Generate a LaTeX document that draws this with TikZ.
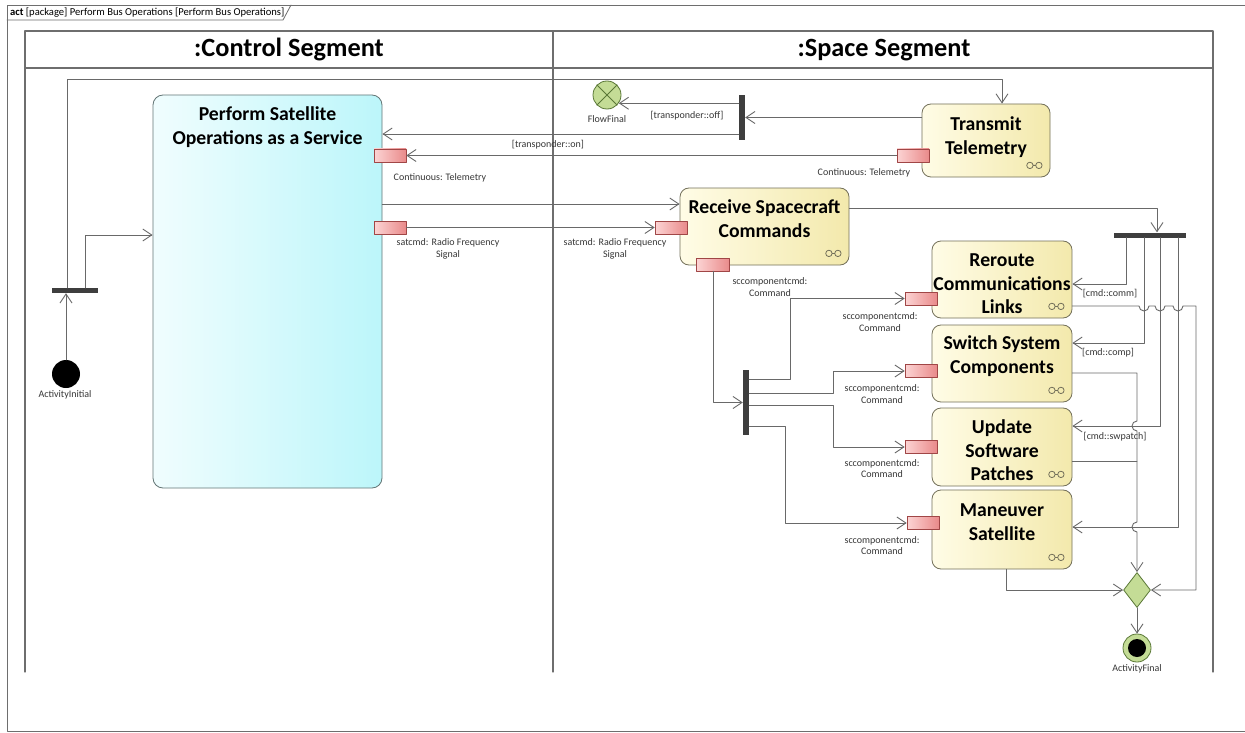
\documentclass[tikz,border=0pt]{standalone}
\usepackage{fontspec}
\setmainfont{Carlito}
\usetikzlibrary{arrows.meta}
\usetikzlibrary{shapes.geometric}

\definecolor{linegray}{RGB}{105,105,105}
\definecolor{lanegray}{RGB}{110,110,110}
\definecolor{lblgray}{RGB}{55,55,55}
\definecolor{actL}{RGB}{255,252,230}
\definecolor{actR}{RGB}{243,233,172}
\definecolor{actD}{RGB}{115,112,90}
\definecolor{perfL}{RGB}{240,253,254}
\definecolor{perfR}{RGB}{188,246,250}
\definecolor{perfD}{RGB}{100,118,118}
\definecolor{pinL}{RGB}{252,212,212}
\definecolor{pinR}{RGB}{233,138,138}
\definecolor{pinD}{RGB}{160,70,70}
\definecolor{greenF}{RGB}{196,220,150}
\definecolor{greenD}{RGB}{90,120,55}
\definecolor{barC}{RGB}{62,62,62}

\begin{document}
\begin{tikzpicture}[line cap=round,line join=round,x=1pt,y=-1pt,
  flow/.style={draw=linegray,line width=0.9pt,-{Straight Barb[length=9pt,width=12pt]}},
  wire/.style={draw=linegray,line width=0.9pt},
  act/.style={draw=actD,line width=0.8pt,rounded corners=9pt,left color=actL,right color=actR,
    minimum width=140pt,minimum height=77pt,inner sep=0pt},
  acttxt/.style={anchor=north,align=center,inner sep=0pt,font=\fontsize{19.7}{23.5}\selectfont\bfseries},
  pinbox/.style={draw=pinD,line width=0.7pt,left color=pinL,right color=pinR,
    minimum width=32pt,minimum height=13pt,inner sep=0pt},
  lbl/.style={align=center,inner sep=0pt,text=lblgray,font=\fontsize{10}{11.5}\selectfont},
  bar/.style={fill=barC,inner sep=0pt},
  rake/.pic={\draw[actD,line width=0.8pt] (-4.5,0) circle[radius=3.2pt] (4.5,0) circle[radius=3.2pt] (-1.3,0) -- (1.3,0);}]
\useasboundingbox (0,0) rectangle (1245,733);
\fill[white] (0,0) rectangle (1245,733);

% diagram frame
\draw[lanegray,line width=0.8pt] (1245,5) -- (7,5) -- (7,731) -- (1245,731);
\draw[lanegray,line width=0.8pt] (7,20) -- (283,20) -- (291,5);
\node[anchor=west,inner sep=0pt,font=\fontsize{10.6}{12}\selectfont] (frame-t) at (10,13)
  {\textbf{act} [package] Perform Bus Operations [Perform Bus Operations]};

% partitions
\draw[lanegray,line width=1.2pt] (25,672) -- (25,31) -- (1213,31) -- (1213,672);
\draw[lanegray,line width=1.2pt] (25,68) -- (1213,68);
\draw[lanegray,line width=1.2pt] (553,31) -- (553,672);
\node[font=\fontsize{26.3}{30}\selectfont\bfseries] (ctrl) at (289,50) {:Control Segment};
\node[font=\fontsize{26.3}{30}\selectfont\bfseries] (space) at (884,50) {:Space Segment};

% control segment
\node[circle,fill=black,minimum size=28pt,inner sep=0pt] (init) at (66,374) {};
\node[lbl] (init-l) at (65,395) {ActivityInitial};
\node[bar,minimum width=46pt,minimum height=5pt] (forkA) at (75,290.5) {};
\node[draw=perfD,line width=0.8pt,rounded corners=10pt,left color=perfL,right color=perfR,
  minimum width=229pt,minimum height=393pt,inner sep=0pt] (perform) at (267.5,291.5) {};
\node[acttxt] (perform-t) at ([yshift=-12pt]perform.north) {Perform Satellite\\Operations as a Service};
\node[pinbox] (perfTm) at (390,155.5) {};
\node[pinbox] (perfRf) at (390,227.5) {};
\node[lbl] (perfTm-l) at (440,178) {Continuous: Telemetry};
\node[lbl] (perfRf-l) at (448,249) {satcmd: Radio Frequency\\Signal};

% space segment
\node[act,minimum width=128pt,minimum height=73pt] (transmit) at (986,140.5) {};
\node[acttxt] (transmit-t) at ([yshift=-13pt]transmit.north) {Transmit\\Telemetry};
\node[pinbox] (transPin) at (913,155.5) {};
\node[lbl] (transPin-l) at (864,173) {Continuous: Telemetry};
\node[bar,minimum width=6pt,minimum height=45pt] (joinT) at (742,117.5) {};
\node[circle,draw=greenD,fill=greenF,line width=0.8pt,minimum size=28pt,inner sep=0pt] (flowfinal) at (607,95) {};
\draw[greenD,line width=0.8pt] (flowfinal.45) -- (flowfinal.225) (flowfinal.135) -- (flowfinal.-45);
\node[lbl] (flowfinal-l) at (607,119) {FlowFinal};

\node[act,minimum width=169pt] (receive) at (764.5,226.5) {};
\node[acttxt] (receive-t) at ([yshift=-12pt]receive.north) {Receive Spacecraft\\Commands};
\node[pinbox] (recvRf) at (671,227.5) {};
\node[lbl] (recvRf-l) at (615,249) {satcmd: Radio Frequency\\Signal};
\node[pinbox,minimum width=33pt] (recvCmd) at (713,264.5) {};
\node[lbl] (recvCmd-l) at (770,287) {sccomponentcmd:\\Command};

\node[bar,minimum width=6pt,minimum height=65pt] (forkB) at (746,402.5) {};
\node[bar,minimum width=72pt,minimum height=5pt] (forkC) at (1150,235) {};

\node[act] (reroute) at (1002,279.5) {};
\node[acttxt] (reroute-t) at ([yshift=-13pt]reroute.north) {Reroute\\Communications\\Links};
\node[act] (switch) at (1002,363.5) {};
\node[acttxt] (switch-t) at ([yshift=-11pt]switch.north) {Switch System\\Components};
\node[act,minimum height=78pt] (update) at (1002,447) {};
\node[acttxt] (update-t) at ([yshift=-12pt]update.north) {Update\\Software\\Patches};
\node[act,minimum height=79pt] (maneuver) at (1002,529.5) {};
\node[acttxt] (maneuver-t) at ([yshift=-14pt]maneuver.north) {Maneuver\\Satellite};

\node[pinbox] (reroutePin) at (921,298.5) {};
\node[pinbox] (switchPin) at (921,371) {};
\node[pinbox] (updatePin) at (921,447) {};
\node[pinbox] (maneuverPin) at (923,523) {};
\node[lbl] (reroutePin-l) at (880,322) {sccomponentcmd:\\Command};
\node[lbl] (switchPin-l) at (882,394) {sccomponentcmd:\\Command};
\node[lbl] (updatePin-l) at (882,468.5) {sccomponentcmd:\\Command};
\node[lbl] (maneuverPin-l) at (882,545.5) {sccomponentcmd:\\Command};

% call behaviour rakes
\foreach \a in {transmit,receive,reroute,switch,update,maneuver}
  \pic at ([xshift=-16pt,yshift=12pt]\a.south east) {rake};

\node[diamond,draw=greenD,fill=greenF,line width=0.8pt,minimum width=27pt,minimum height=35pt,inner sep=0pt] (merge) at (1137,590) {};
\node[circle,draw=greenD,fill=greenF,line width=0.8pt,minimum size=28pt,inner sep=0pt] (final) at (1137,648) {};
\fill (final) circle[radius=9pt];
\node[lbl] (final-l) at (1137,669) {ActivityFinal};

% flows
\coordinate (topRail) at (1002,79);
\coordinate (perfIn) at (85,235);
\draw[flow] (init.north) -- (init.north |- forkA.south);
\draw[flow] (forkA.north -| 67,0) |- (topRail) -- (topRail |- transmit.north);
\draw[flow] (forkA.north -| perfIn) |- (perform.west |- perfIn);

\draw[flow] (transmit.west |- joinT) -- (joinT.east);
\draw[flow] (joinT.west |- flowfinal.-35) -- (flowfinal.-35);
\node[lbl] (off-l) at (687,116) {[transponder::off]};
\draw[flow] (joinT.west |- 0,134) -- (perform.east |- 0,134);
\draw[flow] (transPin.west) -- (perfTm.east);
\node[lbl] (on-l) at (548,145) {[transponder::on]};

\draw[flow] (perform.east |- 0,204) -- (receive.west |- 0,204);
\draw[flow] (perfRf.east) -- (recvRf.west);
\draw[flow] (receive.east |- 0,208) -| ([xshift=7pt]forkC.north);
\draw[flow] (recvCmd.south) |- (forkB.west);

\draw[flow] (forkB.east |- 0,379) -| (reroutePin -| 790,0) -- (reroutePin.west);
\draw[flow] (forkB.east |- 0,393) -| (switchPin -| 833,0) -- (switchPin.west);
\draw[flow] (forkB.east |- 0,405) -| (updatePin -| 833,0) -- (updatePin.west);
\draw[flow] (forkB.east |- 0,426) -| (maneuverPin -| 785,0) -- (maneuverPin.west);

\draw[flow] (forkC.south -| 1126,0) |- (reroute.east |- 0,284);
\node[lbl] (comm-l) at (1110,294) {[cmd::comm]};
\draw[flow] (forkC.south -| 1144,0) |- (switch.east |- 0,343);
\node[lbl] (comp-l) at (1108,353) {[cmd::comp]};
\draw[flow] (forkC.south -| 1160,0) |- (update.east |- 0,426);
\node[lbl] (swpatch-l) at (1115,437) {[cmd::swpatch]};
\draw[flow] (forkC.south -| 1178,0) |- (maneuver.east |- 0,527);

% exits into the merge, with hops over crossing flows
\draw[flow] (reroute.east |- 0,306) -- (1139,306) arc[start angle=180,end angle=360,radius=5pt]
  -- (1155,306) arc[start angle=180,end angle=360,radius=5pt]
  -- (1173,306) arc[start angle=180,end angle=360,radius=5pt]
  -- (1196,306) |- (merge.east);
\draw[flow] (switch.east |- 0,373) -- (merge.north |- 0,373) -- (merge.north |- 0,421)
  arc[start angle=90,end angle=270,radius=5pt] -- (merge.north |- 0,522)
  arc[start angle=90,end angle=270,radius=5pt] -- (merge.north);
\draw[wire] (update.east |- 0,461) -- (merge.north |- 0,461);
\draw[flow] (maneuver.south -| 1006,0) |- (merge.west);
\draw[flow] (merge.south) -- (final.north);
\end{tikzpicture}
\end{document}
